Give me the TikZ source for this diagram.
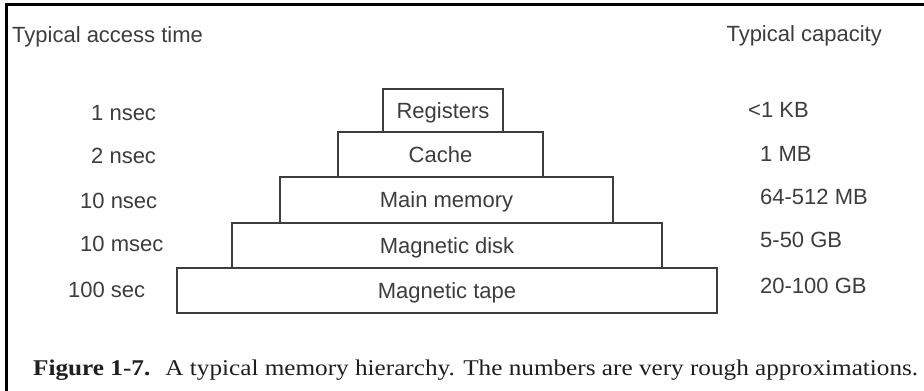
\documentclass[tikz,border=0pt]{standalone}
\usepackage{graphicx}
\usepackage{fontspec}
\setmainfont{Liberation Serif}
\setsansfont{Liberation Sans}
\definecolor{ink}{gray}{0.24}
\definecolor{capink}{gray}{0.12}
\begin{document}
\begin{tikzpicture}[x=1pt,y=-1pt,
  lbl/.style={font=\sffamily\fontsize{22}{26}\selectfont, text=ink, inner sep=0pt},
  tier/.style={draw=ink, line width=1.4pt, inner sep=0pt, text depth=0pt,
               font=\sffamily\fontsize{22}{26}\selectfont, text=ink},
  captiontext/.style={font=\rmfamily\fontsize{22.5}{27}\selectfont, text=capink, inner sep=0pt}]
\useasboundingbox (0,0) rectangle (924,391);
\fill[white] (0,0) rectangle (924,391);
\draw[line width=3pt] (6.5,391) -- (6.5,4) -- (924,4);

% headers
\node[lbl, anchor=base west] (hl) at (12,42) {Typical access time};
\node[lbl, anchor=base east] (hr) at (882,41) {Typical capacity};

% pyramid
\node[tier, minimum width=120, minimum height=43] (reg)  at (443,110.5) {Registers};
\node[tier, minimum width=205, minimum height=45] (cache) at (440.5,154.5) {Cache};
\node[tier, minimum width=333, minimum height=46] (main) at (446.5,200) {Main memory};
\node[tier, minimum width=430, minimum height=45] (disk) at (447,245.5) {Magnetic disk};
\node[tier, minimum width=540, minimum height=45] (tape) at (447,290.5) {Magnetic tape};

% access times
\node[lbl, anchor=base west] (t1) at (91,120) {1 nsec};
\node[lbl, anchor=base west] (t2) at (91,163) {2 nsec};
\node[lbl, anchor=base west] (t3) at (80,208) {10 nsec};
\node[lbl, anchor=base west] (t4) at (80,251) {10 msec};
\node[lbl, anchor=base west] (t5) at (68,297) {100 sec};

% capacities
\node[lbl, anchor=base west] (c1) at (748,117) {<1 KB};
\node[lbl, anchor=base west] (c2) at (760,161) {1 MB};
\node[lbl, anchor=base west] (c3) at (760,204) {64-512 MB};
\node[lbl, anchor=base west] (c4) at (760,247) {5-50 GB};
\node[lbl, anchor=base west] (c5) at (760,293) {20-100 GB};

% caption
\node[captiontext, anchor=base west] (caption) at (33,375)
  {\resizebox{885pt}{\height}{{\bfseries Figure 1-7.}\hspace{0.6em}A typical memory hierarchy. The numbers are very rough approximations.}};
\end{tikzpicture}
\end{document}
